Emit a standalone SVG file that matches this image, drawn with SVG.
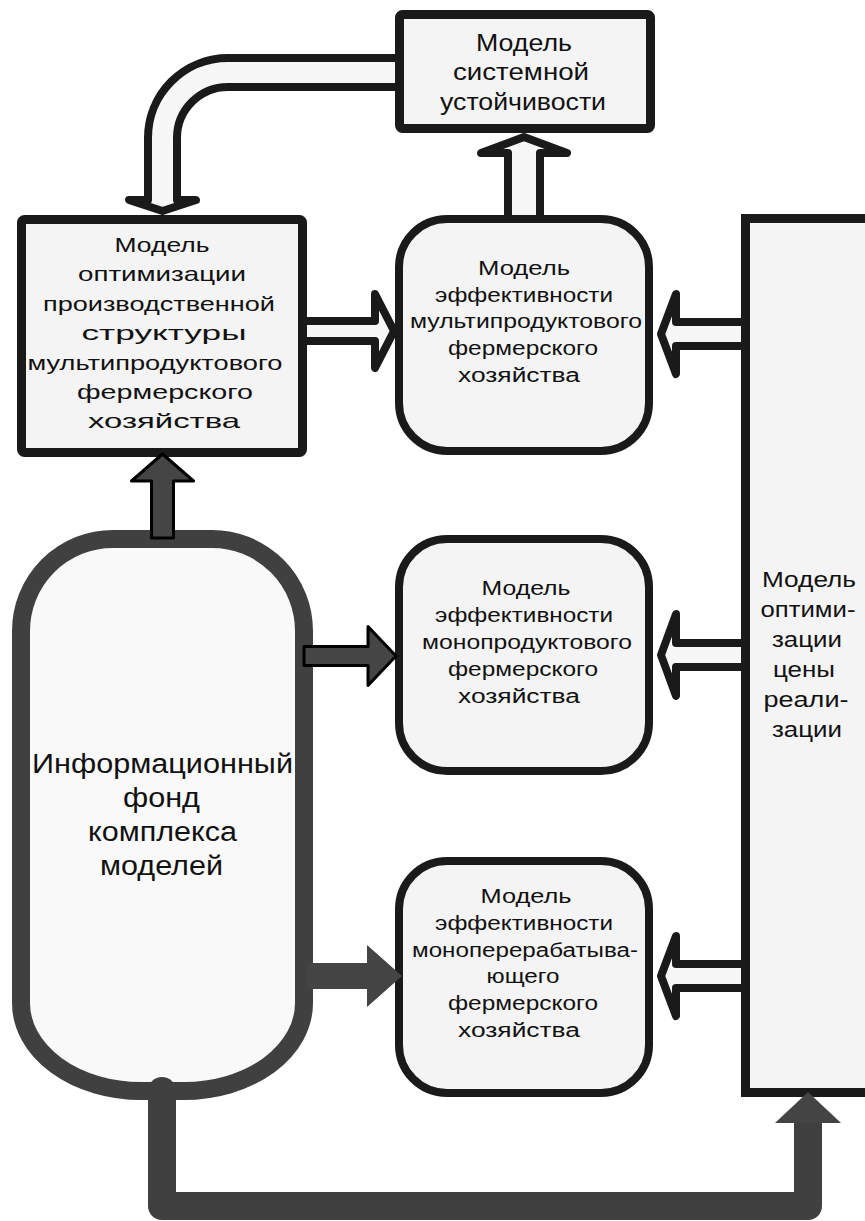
<svg xmlns="http://www.w3.org/2000/svg" width="865" height="1221" viewBox="0 0 865 1221">
<style>
.box{fill:#f4f4f4;stroke:#1a1a1a;stroke-width:9}
.rbox{fill:#f4f4f4;stroke:#1a1a1a;stroke-width:8}
.fund{fill:#f9f9f9;stroke:#404040;stroke-width:18}
.la{fill:#f7f7f7;stroke:#1a1a1a;stroke-width:8;stroke-linejoin:round}
.da{fill:#454545;stroke:#000;stroke-width:3;stroke-linejoin:round}
.db{fill:#444444}
.bar{fill:none;stroke:#404040;stroke-width:28;stroke-linejoin:round;stroke-linecap:butt}
text{font-family:"Liberation Sans",Arial,sans-serif;fill:#111;text-anchor:middle}
.s23{font-size:23px}
.s21{font-size:21px}
.s20{font-size:20px}
.s22{font-size:22px}
.s27{font-size:27px}
</style>
<rect x="0" y="0" width="865" height="1221" fill="#ffffff"/>

<g id="nodes">
<g id="stability">
<rect class="box" x="399.5" y="14.5" width="251" height="114" rx="3"/>
<text class="s23" x="524" y="51" textLength="96" lengthAdjust="spacingAndGlyphs">Модель</text>
<text class="s23" x="521" y="80" textLength="136" lengthAdjust="spacingAndGlyphs">системной</text>
<text class="s23" x="523" y="110" textLength="166" lengthAdjust="spacingAndGlyphs">устойчивости</text>
</g>
<g id="optimization">
<rect class="box" x="21.5" y="219.5" width="281" height="233" rx="3"/>
<text class="s21" x="162" y="252" textLength="95" lengthAdjust="spacingAndGlyphs">Модель</text>
<text class="s21" x="162" y="281" textLength="168" lengthAdjust="spacingAndGlyphs">оптимизации</text>
<text class="s21" x="159" y="311" textLength="232" lengthAdjust="spacingAndGlyphs">производственной</text>
<text class="s21" x="164" y="340" textLength="165" lengthAdjust="spacingAndGlyphs">структуры</text>
<text class="s21" x="155" y="370" textLength="255" lengthAdjust="spacingAndGlyphs">мультипродуктового</text>
<text class="s21" x="165" y="399" textLength="176" lengthAdjust="spacingAndGlyphs">фермерского</text>
<text class="s21" x="164" y="428" textLength="152" lengthAdjust="spacingAndGlyphs">хозяйства</text>
</g>
<g id="eff-multi">
<rect class="rbox" x="399" y="219" width="250" height="232" rx="48"/>
<text class="s20" x="524" y="275" textLength="92" lengthAdjust="spacingAndGlyphs">Модель</text>
<text class="s20" x="524" y="302" textLength="178" lengthAdjust="spacingAndGlyphs">эффективности</text>
<text class="s20" x="526" y="328" textLength="232" lengthAdjust="spacingAndGlyphs">мультипродуктового</text>
<text class="s20" x="523" y="355" textLength="150" lengthAdjust="spacingAndGlyphs">фермерского</text>
<text class="s20" x="519" y="382" textLength="122" lengthAdjust="spacingAndGlyphs">хозяйства</text>
</g>
<g id="eff-mono">
<rect class="rbox" x="399" y="539" width="250" height="232" rx="48"/>
<text class="s20" x="526" y="595" textLength="89" lengthAdjust="spacingAndGlyphs">Модель</text>
<text class="s20" x="524" y="622" textLength="178" lengthAdjust="spacingAndGlyphs">эффективности</text>
<text class="s20" x="527" y="649" textLength="210" lengthAdjust="spacingAndGlyphs">монопродуктового</text>
<text class="s20" x="523" y="676" textLength="150" lengthAdjust="spacingAndGlyphs">фермерского</text>
<text class="s20" x="519" y="703" textLength="122" lengthAdjust="spacingAndGlyphs">хозяйства</text>
</g>
<g id="eff-processing">
<rect class="rbox" x="399" y="861" width="250" height="232" rx="48"/>
<text class="s20" x="526" y="903" textLength="91" lengthAdjust="spacingAndGlyphs">Модель</text>
<text class="s20" x="524" y="930" textLength="178" lengthAdjust="spacingAndGlyphs">эффективности</text>
<text class="s20" x="525" y="957" textLength="226" lengthAdjust="spacingAndGlyphs">моноперерабатыва-</text>
<text class="s20" x="523" y="983" textLength="73" lengthAdjust="spacingAndGlyphs">ющего</text>
<text class="s20" x="523" y="1010" textLength="150" lengthAdjust="spacingAndGlyphs">фермерского</text>
<text class="s20" x="519" y="1037" textLength="122" lengthAdjust="spacingAndGlyphs">хозяйства</text>
</g>
<g id="price">
<rect class="box" x="745.5" y="218.5" width="150" height="874"/>
<text class="s22" x="809" y="587" textLength="94" lengthAdjust="spacingAndGlyphs">Модель</text>
<text class="s22" x="808" y="617" textLength="95" lengthAdjust="spacingAndGlyphs">оптими-</text>
<text class="s22" x="807" y="647" textLength="70" lengthAdjust="spacingAndGlyphs">зации</text>
<text class="s22" x="804" y="677" textLength="62" lengthAdjust="spacingAndGlyphs">цены</text>
<text class="s22" x="806" y="707" textLength="85" lengthAdjust="spacingAndGlyphs">реали-</text>
<text class="s22" x="807" y="737" textLength="70" lengthAdjust="spacingAndGlyphs">зации</text>
</g>
<g id="fund">
<path class="fund" d="M113 539 L212 539 A92 92 0 0 1 304 631 L304 1003 A120 88 0 0 1 184 1091 L141 1091 A120 88 0 0 1 21 1003 L21 631 A92 92 0 0 1 113 539 Z"/>
<text class="s27" x="162.5" y="773" textLength="261" lengthAdjust="spacingAndGlyphs">Информационный</text>
<text class="s27" x="161.5" y="807" textLength="77" lengthAdjust="spacingAndGlyphs">фонд</text>
<text class="s27" x="162.5" y="841" textLength="149" lengthAdjust="spacingAndGlyphs">комплекса</text>
<text class="s27" x="161.5" y="875" textLength="123" lengthAdjust="spacingAndGlyphs">моделей</text>
</g>
</g>

<g id="connectors">
<path class="la" d="M399 58 L228 58 A80 80 0 0 0 148 138 L148 200 L129 200 L162.5 211 L196 200 L177 200 L177 138 A51 51 0 0 1 228 87 L399 87 Z"/>
<path class="la" d="M508 219 L508 153 L481 153 L524 137 L567 153 L540 153 L540 219 Z"/>
<path class="la" d="M303 321 L375 321 L375 294 L394 331 L375 368 L375 341 L303 341 Z"/>
<path class="la" d="M745 322 L676 322 L676 294 L661 334 L676 374 L676 346 L745 346 Z"/>
<path class="la" d="M745 643 L676 643 L676 614 L661 655 L676 696 L676 667 L745 667 Z"/>
<path class="la" d="M745 964 L676 964 L676 936 L661 976 L676 1016 L676 988 L745 988 Z"/>
<path class="da" d="M151.5 538 L151.5 481 L131.5 481 L162.5 454 L193.5 481 L173.5 481 L173.5 538 Z"/>
<path class="da" d="M304 646.5 L368 646.5 L368 626.5 L396 656 L368 685.5 L368 665.5 L304 665.5 Z"/>
<path class="db" d="M307 963 L367 963 L367 945 L402 976 L367 1007 L367 989 L307 989 Z"/>
<path class="bar" d="M162 1091 L162 1206 L808 1206 L808 1122"/>
<circle cx="162" cy="1091" r="14" fill="#404040"/>
<path class="db" d="M775 1123 L808 1092 L841 1123 Z"/>
</g>
</svg>
